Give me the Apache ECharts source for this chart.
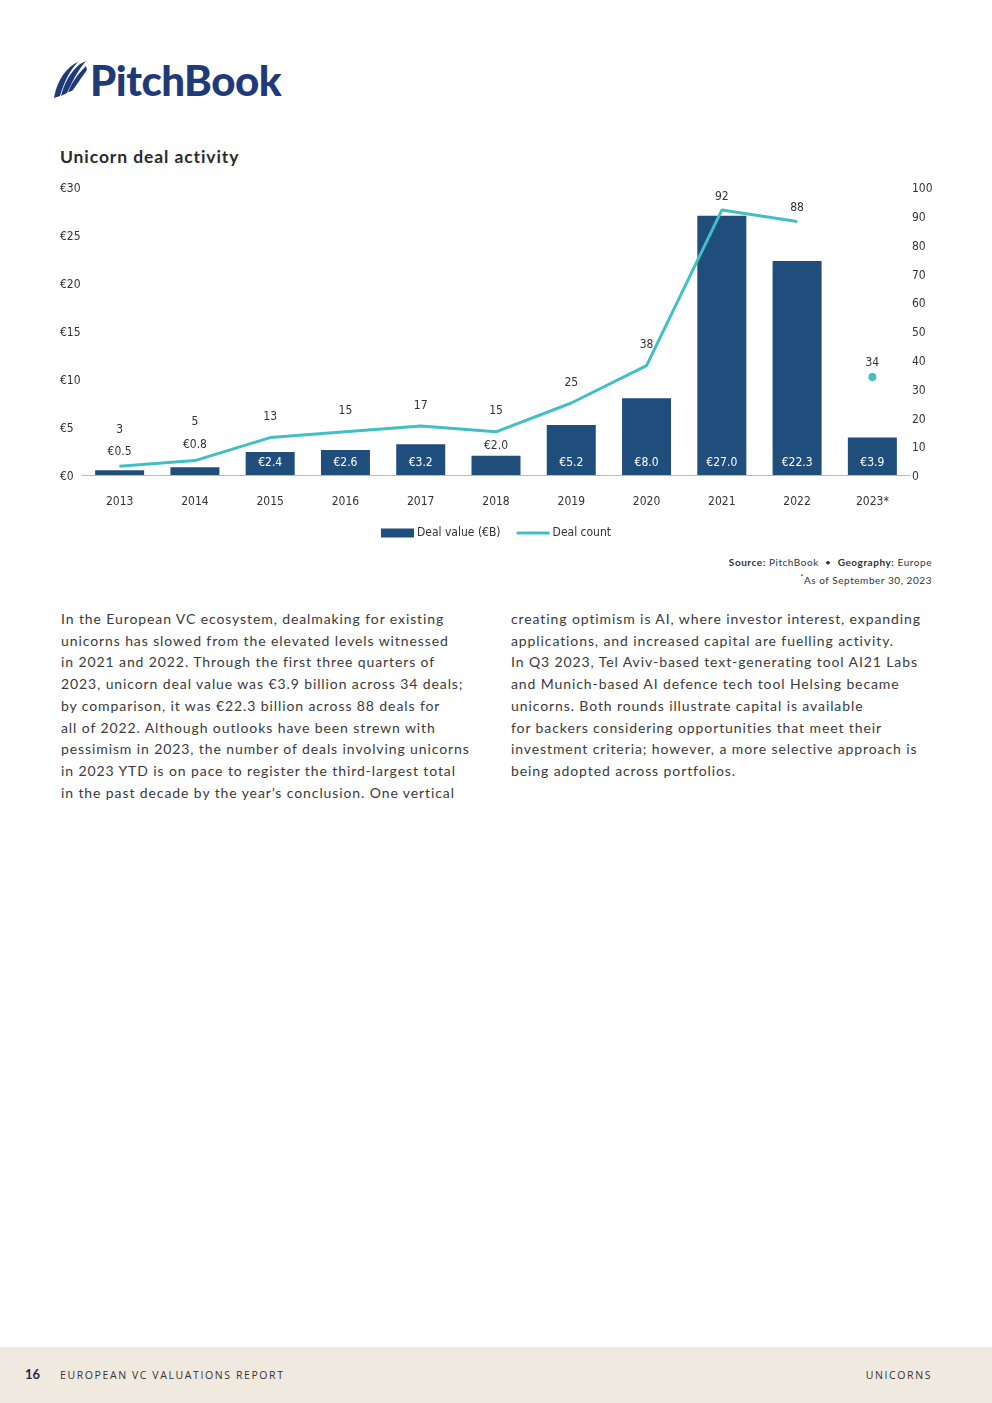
<!DOCTYPE html>
<html>
<head>
<meta charset="utf-8">
<script src="https://cdn.jsdelivr.net/npm/echarts@6/dist/echarts.min.js"></script>
<style>
  html, body { margin:0; padding:0; width:992px; height:1403px; background:#fff; overflow:hidden; }
  body { position:relative; font-family: Lato, "Open Sans", sans-serif; }
  #logo { position:absolute; left:52px; top:58px; height:44px; display:flex; align-items:center; }
  #logo .word { font-family: Lato, sans-serif; font-weight:900; font-size:42px; color:#1f3a78; letter-spacing:-0.5px; margin-left:2px; line-height:44px; }
  #title { position:absolute; left:60px; top:146px; font-size:17.5px; font-weight:700; color:#2b2b2b; letter-spacing:0.9px; }
  #chart { position:absolute; left:0; top:170px; width:992px; height:380px; }
  #source { position:absolute; right:60px; top:555px; text-align:right; font-size:10px; color:#333; line-height:15px; letter-spacing:0.55px; }
  .col { position:absolute; top:608px; font-size:14px; line-height:21.7px; color:#3a3a3a; letter-spacing:0.9px; white-space:nowrap; }
  #footer { position:absolute; left:0; top:1347px; width:992px; height:56px; background:#f0e9df; }
  #footer .num { position:absolute; left:25px; top:19px; font-weight:700; font-size:13px; color:#1d2b4f; }
  #footer .rep { position:absolute; left:60px; top:21px; font-size:10.5px; color:#333; letter-spacing:1.6px; font-family:"Open Sans", sans-serif; }
  #footer .sec { position:absolute; right:60px; top:21px; font-size:10.5px; color:#333; letter-spacing:1.6px; font-family:"Open Sans", sans-serif; }
</style>
</head>
<body>
<div id="logo">
  <svg width="36" height="40" viewBox="0 0 36 40">
    <path d="M2 38 C4 26 10 12 22 4 L26 2 C18 10 12 22 8 36 Z" fill="#1f3a78"/>
    <path d="M9 36 C12 24 18 12 28 4 L34 1 C26 10 20 22 15 33 Z" fill="#1f3a78"/>
    <path d="M16 32 C20 22 26 14 34 6 L35 10 C29 18 24 26 20 31 Z" fill="#1f3a78"/>
  </svg>
  <span class="word">PitchBook</span>
</div>
<div id="title">Unicorn deal activity</div>
<div id="chart"></div>
<div id="source"><b>Source:</b> PitchBook &nbsp;•&nbsp; <b>Geography:</b> Europe<br><sup style="font-size:7px">*</sup>As of September 30, 2023</div>
<div class="col" style="left:61px">
In the European VC ecosystem, dealmaking for existing<br>
unicorns has slowed from the elevated levels witnessed<br>
in 2021 and 2022. Through the first three quarters of<br>
2023, unicorn deal value was €3.9 billion across 34 deals;<br>
by comparison, it was €22.3 billion across 88 deals for<br>
all of 2022. Although outlooks have been strewn with<br>
pessimism in 2023, the number of deals involving unicorns<br>
in 2023 YTD is on pace to register the third-largest total<br>
in the past decade by the year’s conclusion. One vertical
</div>
<div class="col" style="left:511px">
creating optimism is AI, where investor interest, expanding<br>
applications, and increased capital are fuelling activity.<br>
In Q3 2023, Tel Aviv-based text-generating tool AI21 Labs<br>
and Munich-based AI defence tech tool Helsing became<br>
unicorns. Both rounds illustrate capital is available<br>
for backers considering opportunities that meet their<br>
investment criteria; however, a more selective approach is<br>
being adopted across portfolios.
</div>
<div id="footer">
  <span class="num">16</span>
  <span class="rep">EUROPEAN VC VALUATIONS REPORT</span>
  <span class="sec">UNICORNS</span>
</div>
<script>
const years = ['2013','2014','2015','2016','2017','2018','2019','2020','2021','2022','2023*'];
const dealValue = [0.5, 0.8, 2.4, 2.6, 3.2, 2.0, 5.2, 8.0, 27.0, 22.3, 3.9];
const dealCount = [3, 5, 13, 15, 17, 15, 25, 38, 92, 88, null];
const dealCount2023 = [null, null, null, null, null, null, null, null, null, null, 34];
const leftTicks = [0, 5, 10, 15, 20, 25, 30];
const rightTicks = [0, 10, 20, 30, 40, 50, 60, 70, 80, 90, 100];

const NAVY = '#1f4e7d';
const TEAL = '#42bfc5';
const FONT = '"Liberation Sans Narrow", "DejaVu Sans Condensed", sans-serif';

const barData = dealValue.map(v => {
  const small = v < 2.2;
  return {
    value: v,
    label: small
      ? { position: 'top', color: '#333', distance: v === 2.0 ? 4 : (v === 0.5 ? 12 : 16) }
      : { position: 'insideBottom', color: '#fff', distance: 6 }
  };
});
const countData = dealCount.map((v, i) => {
  let d = 14;
  if (i === 0) d = 30;
  if (i === 1) d = 32;
  if (v === 92 || v === 88) d = 7;
  return { value: v, label: { show: true, position: 'top', distance: d } };
});

const tickRich = { t: { color: '#333', fontSize: 12, fontFamily: FONT, padding: [4, 0, 0, 0] } };

const chart = echarts.init(document.getElementById('chart'), null, { renderer: 'canvas' });
chart.setOption({
  animation: false,
  textStyle: { fontFamily: FONT },
  grid: { left: 82, right: 82, top: 17, height: 288 },
  legend: {
    top: 352, left: 'center',
    itemWidth: 33, itemHeight: 9, itemGap: 16,
    textStyle: { fontFamily: FONT, fontSize: 12, color: '#333', padding: [0, 0, 0, -2] },
    data: [
      { name: 'Deal value (€B)', icon: 'rect' },
      { name: 'Deal count', icon: 'path://M0,0 L33,0 L33,3 L0,3 Z' }
    ]
  },
  xAxis: {
    type: 'category', data: years,
    axisLine: { lineStyle: { color: '#bbbbbb', width: 1 } },
    axisTick: { show: false },
    axisLabel: { color: '#333', fontSize: 12, fontFamily: FONT, margin: 21 }
  },
  yAxis: [
    {
      type: 'value', min: 0, max: 30, interval: 5,
      splitLine: { show: false },
      axisLine: { show: false }, axisTick: { show: false },
      axisLabel: { color: '#333', fontSize: 12, fontFamily: FONT, align: 'left', margin: 22, rich: tickRich,
        formatter: v => leftTicks.includes(v) ? '{t|€' + v + '}' : '' }
    },
    {
      type: 'value', min: 0, max: 100, interval: 10,
      splitLine: { show: false },
      axisLine: { show: false }, axisTick: { show: false },
      axisLabel: { color: '#333', fontSize: 12, fontFamily: FONT, margin: 2, rich: tickRich,
        formatter: v => rightTicks.includes(v) ? '{t|' + v + '}' : '' }
    }
  ],
  series: [
    {
      name: 'Deal value (€B)', type: 'bar', data: barData, yAxisIndex: 0,
      barWidth: 49,
      itemStyle: { color: NAVY },
      label: { show: true, fontSize: 12, fontFamily: FONT, formatter: p => '€' + p.value.toFixed(1) }
    },
    {
      name: 'Deal count', type: 'line', data: countData, yAxisIndex: 1,
      symbol: 'circle', symbolSize: 1, showSymbol: true, connectNulls: false,
      lineStyle: { color: TEAL, width: 3 },
      itemStyle: { color: TEAL },
      label: { show: true, position: 'top', color: '#333', fontSize: 12, fontFamily: FONT }
    },
    {
      name: 'Deal count', type: 'line', data: dealCount2023, yAxisIndex: 1,
      symbol: 'circle', symbolSize: 8, showSymbol: true,
      lineStyle: { color: TEAL, width: 3 },
      itemStyle: { color: TEAL },
      label: { show: true, position: 'top', distance: 4, color: '#333', fontSize: 12, fontFamily: FONT }
    }
  ]
});
</script>
</body>
</html>
